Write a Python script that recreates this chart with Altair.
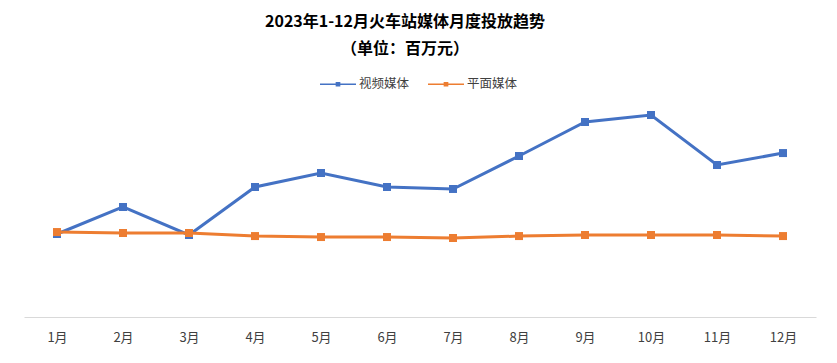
import altair as alt
import pandas as pd

months = ["1月", "2月", "3月", "4月", "5月", "6月", "7月", "8月", "9月", "10月", "11月", "12月"]
video = [76.5, 101.4, 75.6, 119.8, 132.7, 119.8, 118.0, 148.4, 179.7, 186.2, 140.1, 151.1]
print_media = [78.3, 77.4, 77.4, 74.6, 73.7, 73.7, 72.8, 74.6, 75.6, 75.6, 75.6, 74.6]
series_names = ["视频媒体", "平面媒体"]
colors = ["#4472C4", "#ED7D31"]

rows = []
for i, m in enumerate(months):
    rows.append({"month": m, "series": series_names[0], "value": video[i], "order": 0})
    rows.append({"month": m, "series": series_names[1], "value": print_media[i], "order": 1})
df = pd.DataFrame(rows)

FONT = "Noto Sans CJK SC"

legend_shape = ("M-1,-0.045 L1,-0.045 L1,0.045 L-1,0.045 Z "
                "M-0.13,-0.13 L0.13,-0.13 L0.13,0.13 L-0.13,0.13 Z")

x = alt.X("month:N", sort=months, title=None,
          scale=alt.Scale(paddingInner=0, paddingOuter=0),
          axis=alt.Axis(labelAngle=0, ticks=False, domainColor="#d9d9d9",
                        domainWidth=1, labelFont=FONT, labelFontSize=13,
                        labelColor="#404040", labelPadding=14))
y = alt.Y("value:Q", title=None, scale=alt.Scale(domain=[0, 200]), axis=None)
color = alt.Color("series:N", sort=series_names,
                  scale=alt.Scale(domain=series_names, range=colors),
                  legend=alt.Legend(title=None, orient="none", direction="horizontal",
                                    legendX=296, legendY=-34,
                                    symbolType=legend_shape, symbolSize=1296,
                                    symbolStrokeWidth=0, symbolOpacity=1,
                                    labelFont=FONT, labelFontSize=12.5,
                                    labelColor="#404040", columnPadding=18,
                                    labelOffset=3))

base = alt.Chart(df).encode(x=x, y=y, color=color, order="order:Q")
lines = base.mark_line(strokeWidth=3).encode(detail="series:N")
points = base.mark_point(shape="square", filled=True, size=64, opacity=1)

chart = alt.layer(lines, points).properties(
    width=792, height=217,
    background="white",
    title=alt.TitleParams(text=["2023年1-12月火车站媒体月度投放趋势", "（单位：百万元）"],
                          font=FONT, fontSize=16, fontWeight="bold", color="#000000",
                          lineHeight=27, offset=9, dx=-15, anchor="middle"),
    autosize=alt.AutoSizeParams(type="none"),
    padding={"left": 16, "top": 92, "right": 12, "bottom": 40},
).configure_view(stroke=None, strokeWidth=0)

chart.save("out.html", embed_options={"renderer": "svg", "actions": False})
